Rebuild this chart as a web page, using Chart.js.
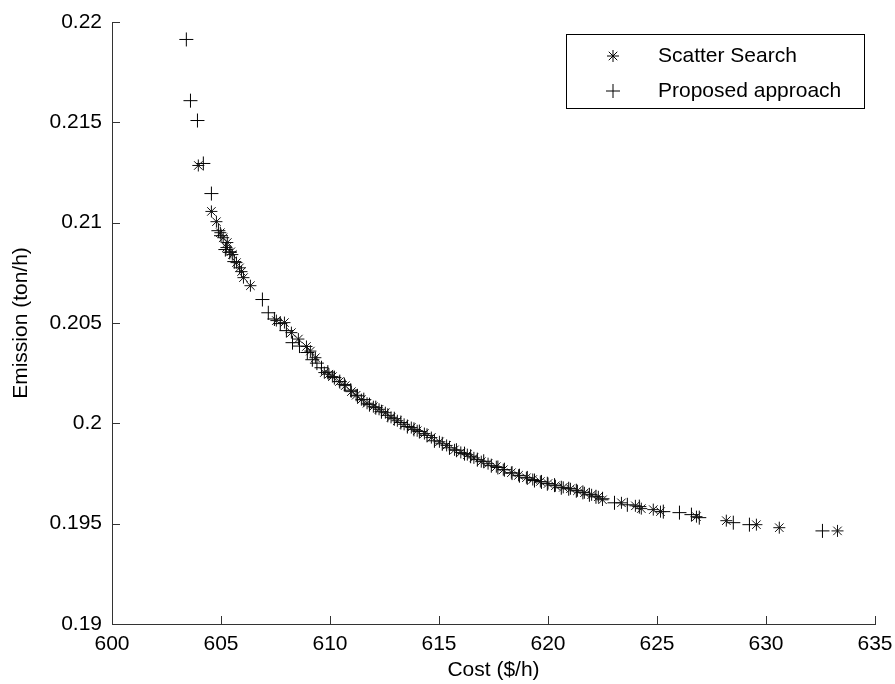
<!DOCTYPE html>
<html>
<head>
<meta charset="utf-8">
<script src="https://cdn.jsdelivr.net/npm/chart.js@4"></script>
<style>
  html, body { margin: 0; padding: 0; background: #fff; }
  #wrap { width: 895px; height: 684px; }
</style>
</head>
<body>
<div id="wrap"><canvas id="chart" width="895" height="684"></canvas></div>
<script>
'use strict';

// Scatter Search (*)
const ssCost = [603.96, 604.56, 604.79, 604.97, 605.29, 605.25, 605.52, 605.71, 605.94, 606.03,
  606.35, 607.54, 607.91, 608.23, 608.92, 609.33, 609.74, 610.11, 610.43, 610.98,
  611.44, 611.99, 612.54, 613.09, 613.73, 614.33, 615.02, 615.71, 616.30, 616.94,
  617.63, 618.32, 619.01, 619.65, 620.34, 621.03, 621.67, 622.31, 622.50, 623.37,
  624.01, 624.28, 624.83, 625.16, 626.81, 628.18, 629.56, 630.61, 633.28,
  605.10, 605.45, 605.85, 608.55, 609.10, 609.95, 610.70, 611.20, 611.70, 612.25,
  612.80, 613.40, 614.00, 614.65, 615.35, 616.00, 616.60, 617.25, 617.95, 618.65,
  619.30, 620.00, 620.70, 621.35, 622.00];
const ssEmission = [0.21285, 0.21056, 0.21005, 0.20950, 0.20901, 0.20876, 0.20841, 0.20801, 0.20756, 0.20726,
  0.20686, 0.20512, 0.20502, 0.20452, 0.20383, 0.20327, 0.20253, 0.20233, 0.20208, 0.20158,
  0.20118, 0.20083, 0.20053, 0.20013, 0.19979, 0.19949, 0.19908, 0.19868, 0.19844, 0.19809,
  0.19784, 0.19754, 0.19729, 0.19710, 0.19689, 0.19674, 0.19654, 0.19634, 0.19619, 0.19604,
  0.19589, 0.19575, 0.19570, 0.19560, 0.19535, 0.19515, 0.19495, 0.19480, 0.19464,
  0.20925, 0.20855, 0.20775, 0.20420, 0.20360, 0.20245, 0.20188, 0.20140, 0.20100, 0.20070,
  0.20030, 0.19995, 0.19963, 0.19929, 0.19890, 0.19855, 0.19828, 0.19799, 0.19769, 0.19741,
  0.19720, 0.19700, 0.19681, 0.19664, 0.19644];

// Proposed approach (+)
const paCost = [603.41, 603.60, 603.92, 604.19, 604.56, 604.88, 605.20, 605.61, 606.90, 607.17,
  607.72, 608.28, 608.96, 609.19, 609.61, 610.20, 610.66, 611.26, 611.81, 612.36,
  612.95, 613.55, 614.10, 614.79, 615.48, 616.17, 616.76, 617.40, 618.00, 618.69,
  619.38, 619.97, 620.61, 621.30, 621.90, 622.50, 623.05, 623.64, 624.19, 625.29,
  626.03, 626.58, 626.94, 628.50, 629.24, 632.59,
  605.00, 605.40, 607.45, 608.00, 608.60, 609.40, 609.90, 610.45, 610.95, 611.55,
  612.10, 612.65, 613.25, 613.85, 614.45, 615.15, 615.80, 616.45, 617.05, 617.70,
  618.35, 619.05, 619.70, 620.30, 620.95, 621.60, 622.20];
const paEmission = [0.21913, 0.21608, 0.21509, 0.21295, 0.21145, 0.20960, 0.20866, 0.20806, 0.20617, 0.20551,
  0.20497, 0.20402, 0.20353, 0.20317, 0.20277, 0.20228, 0.20193, 0.20137, 0.20093, 0.20058,
  0.20023, 0.19984, 0.19959, 0.19913, 0.19878, 0.19849, 0.19819, 0.19789, 0.19769, 0.19739,
  0.19715, 0.19699, 0.19679, 0.19664, 0.19644, 0.19624, 0.19604, 0.19594, 0.19585, 0.19560,
  0.19555, 0.19545, 0.19530, 0.19505, 0.19495, 0.19464,
  0.20935, 0.20852, 0.20520, 0.20462, 0.20385, 0.20300, 0.20255, 0.20208, 0.20165, 0.20118,
  0.20078, 0.20040, 0.20004, 0.19970, 0.19940, 0.19898, 0.19866, 0.19836, 0.19811, 0.19780,
  0.19752, 0.19728, 0.19708, 0.19692, 0.19674, 0.19656, 0.19634];

const seriesNames = ['Scatter Search', 'Proposed approach'];
const xTickLabels = ['600', '605', '610', '615', '620', '625', '630', '635'];
const yTickLabels = ['0.19', '0.195', '0.2', '0.205', '0.21', '0.215', '0.22'];

const FONT = '"Liberation Sans", Arial, Helvetica, sans-serif';
const AXIS = '#333';

const toPoints = (xs, ys) => xs.map((x, i) => ({ x: x, y: ys[i] }));

// tick marks pointing into the plot, like the original figure
const innerTicks = {
  id: 'innerTicks',
  beforeDatasetsDraw(chart) {
    const { ctx, chartArea, scales: { x, y } } = chart;
    ctx.save();
    ctx.strokeStyle = AXIS;
    ctx.lineWidth = 1;
    ctx.beginPath();
    x.ticks.forEach(t => {
      const px = Math.round(x.getPixelForValue(t.value)) + 0.5;
      ctx.moveTo(px, chartArea.bottom);
      ctx.lineTo(px, chartArea.bottom - 8);
    });
    y.ticks.forEach(t => {
      const py = Math.round(y.getPixelForValue(t.value)) + 0.5;
      ctx.moveTo(chartArea.left, py);
      ctx.lineTo(chartArea.left + 8, py);
    });
    ctx.stroke();
    ctx.restore();
  }
};

// boxed legend in the upper right corner
const boxLegend = {
  id: 'boxLegend',
  afterDraw(chart) {
    const ctx = chart.ctx;
    const left = 566, top = 34, w = 298, h = 74;
    ctx.save();
    ctx.fillStyle = '#fff';
    ctx.fillRect(left, top, w, h);
    ctx.strokeStyle = '#000';
    ctx.lineWidth = 1;
    ctx.strokeRect(left + 0.5, top + 0.5, w, h);
    ctx.font = '21px ' + FONT;
    ctx.textBaseline = 'middle';
    ctx.fillStyle = '#000';
    chart.data.datasets.forEach((ds, i) => {
      const cy = top + 22 + i * 35;
      ctx.strokeStyle = '#000';
      ctx.lineWidth = 1;
      Chart.helpers.drawPoint(ctx, { pointStyle: ds.pointStyle, radius: ds.pointRadius, borderWidth: 1 }, left + 47, cy);
      ctx.fillText(ds.label, left + 92, cy);
    });
    ctx.restore();
  }
};

new Chart(document.getElementById('chart'), {
  type: 'scatter',
  data: {
    datasets: [
      {
        label: seriesNames[0],
        data: toPoints(ssCost, ssEmission),
        pointStyle: 'star',
        pointRadius: 6,
        borderColor: '#111',
        backgroundColor: '#111',
        borderWidth: 1
      },
      {
        label: seriesNames[1],
        data: toPoints(paCost, paEmission),
        pointStyle: 'cross',
        pointRadius: 7,
        borderColor: '#000',
        backgroundColor: '#000',
        borderWidth: 1
      }
    ]
  },
  options: {
    responsive: false,
    animation: false,
    events: [],
    layout: { padding: { top: 22, right: 20, left: 0, bottom: 0 } },
    scales: {
      x: {
        type: 'linear',
        min: 600,
        max: 635,
        afterFit: s => { s.height = 60; },
        ticks: {
          stepSize: 5,
          color: '#000',
          padding: 0,
          font: { family: FONT, size: 21 },
          callback: (v, i) => xTickLabels[i]
        },
        grid: { display: false },
        border: { display: true, color: AXIS, width: 1 },
        title: {
          display: true,
          text: 'Cost ($/h)',
          color: '#000',
          font: { family: FONT, size: 21 },
          padding: { top: 0, bottom: 1 }
        }
      },
      y: {
        type: 'linear',
        min: 0.19,
        max: 0.22,
        afterFit: s => { s.width = 112; },
        ticks: {
          stepSize: 0.005,
          color: '#000',
          padding: 2,
          font: { family: FONT, size: 21 },
          callback: (v, i) => yTickLabels[i]
        },
        grid: { display: false },
        border: { display: true, color: AXIS, width: 1 },
        title: {
          display: true,
          text: 'Emission (ton/h)',
          color: '#000',
          font: { family: FONT, size: 21 },
          padding: { top: 9, bottom: 0 }
        }
      }
    },
    plugins: {
      legend: { display: false },
      tooltip: { enabled: false }
    }
  },
  plugins: [innerTicks, boxLegend]
});
</script>
</body>
</html>
